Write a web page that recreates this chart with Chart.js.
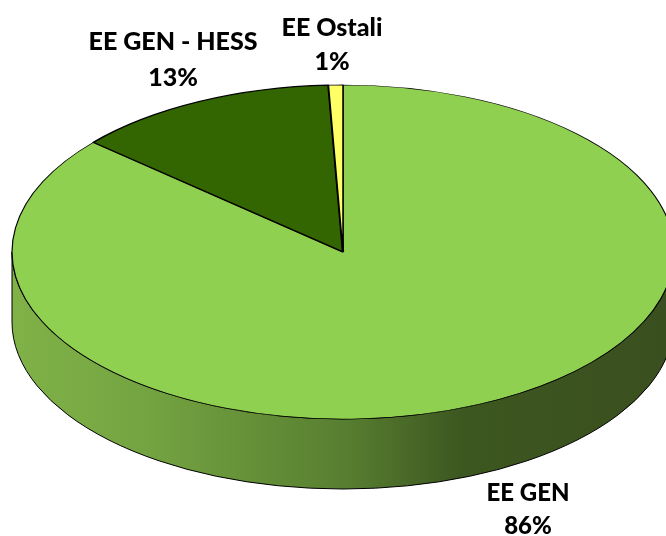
<!DOCTYPE html>
<html><head><meta charset="utf-8">
<style>html,body{margin:0;padding:0;background:#fff}#w{width:666px;height:536px;position:relative;overflow:hidden}</style>
<script src="https://cdn.jsdelivr.net/npm/chart.js@4"></script></head>
<body><div id="w"><canvas id="c" width="666" height="536"></canvas></div>
<script>
const categories = ['EE GEN', 'EE GEN - HESS', 'EE Ostali'];
const shares = [86.4, 12.9, 0.7];
const sliceColors = ['#8fd051', '#336600', '#ffff66'];

const TILT = 167 / 331, DEPTH = 70, FONT = '900 25px Lato, "Open Sans", sans-serif';
const labelSpots = [
  {x: 528, y: 493, gap: 33, squeeze: .96},
  {x: 173, y: 42, gap: 36, squeeze: 1},
  {x: 332, y: 28, gap: 34, squeeze: 1}
];

const pie3d = {
  id: 'pie3d',
  beforeDatasetsDraw(chart) {
    const {ctx} = chart;
    const a = chart.getDatasetMeta(0).data[0];
    const cx = a.x, cy = a.y, rx = a.outerRadius, ry = rx * TILT;
    const g = ctx.createLinearGradient(cx - rx, 0, cx + rx, 0);
    g.addColorStop(0, '#80b248');
    g.addColorStop(.2, '#74a441');
    g.addColorStop(.5, '#587f31');
    g.addColorStop(.68, '#3d5720');
    g.addColorStop(1, '#3a4f1f');
    ctx.save();
    ctx.beginPath();
    ctx.ellipse(cx, cy, rx, ry, 0, Math.PI, 0, true);
    ctx.lineTo(cx + rx, cy + DEPTH);
    ctx.ellipse(cx, cy + DEPTH, rx, ry, 0, 0, Math.PI, false);
    ctx.closePath();
    ctx.fillStyle = g;
    ctx.fill();
    ctx.lineWidth = 1;
    ctx.strokeStyle = '#000';
    ctx.stroke();
    ctx.restore();
    ctx.save();
    ctx.translate(cx, cy);
    ctx.scale(1, TILT);
    ctx.translate(-cx, -cy);
  },
  afterDatasetsDraw(chart) {
    chart.ctx.restore();
  },
  afterDraw(chart) {
    const {ctx} = chart;
    ctx.save();
    ctx.font = FONT;
    ctx.fillStyle = '#000';
    ctx.textAlign = 'center';
    ctx.textBaseline = 'middle';
    categories.forEach((name, i) => {
      const s = labelSpots[i];
      ctx.save();
      ctx.translate(s.x, s.y);
      ctx.scale(s.squeeze, 1);
      ctx.fillText(name, 0, 0);
      ctx.fillText(Math.round(shares[i]) + '%', 0, s.gap);
      ctx.restore();
    });
    ctx.restore();
  }
};

new Chart(document.getElementById('c'), {
  type: 'pie',
  data: {
    labels: categories,
    datasets: [{
      data: shares,
      backgroundColor: sliceColors,
      borderColor: '#000',
      borderWidth: [1.2, 2.4, 1.5],
      borderAlign: 'center',
      clip: false
    }]
  },
  options: {
    responsive: false,
    animation: false,
    radius: 331,
    layout: {padding: {left: 20, bottom: 32}},
    events: [],
    plugins: {legend: {display: false}, tooltip: {enabled: false}}
  },
  plugins: [pie3d]
});
</script></body></html>
